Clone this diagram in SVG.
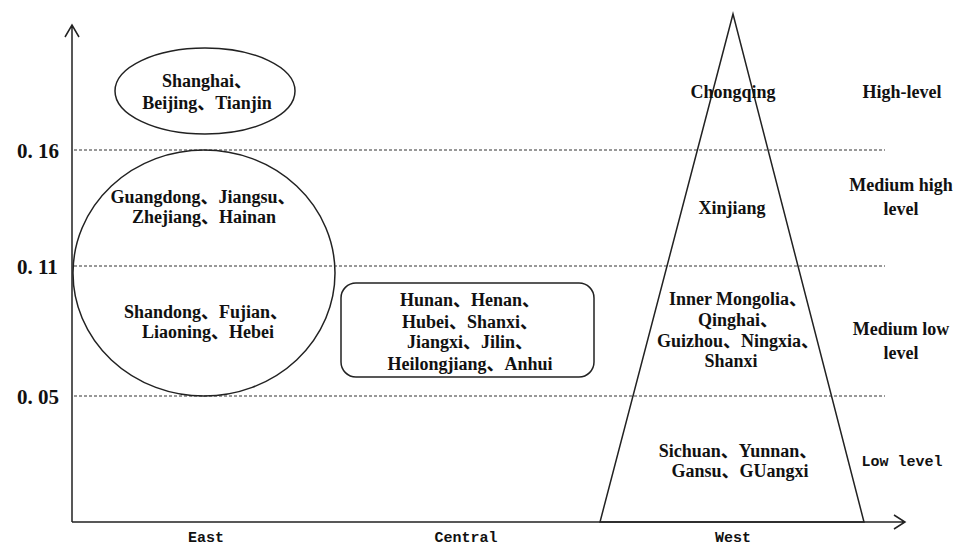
<svg xmlns="http://www.w3.org/2000/svg" width="958" height="548" viewBox="0 0 958 548">
<style>
.t{font-family:"Liberation Serif","Noto Sans CJK SC",serif;font-weight:bold;font-size:18px;fill:#111;text-anchor:middle}
.ax{font-family:"Liberation Serif","Noto Sans CJK SC",serif;font-weight:bold;font-size:21px;fill:#111}
.m{font-family:"Liberation Mono",monospace;font-weight:bold;font-size:15px;fill:#111;text-anchor:middle}
.s{fill:none;stroke:#222;stroke-width:1.5}
.d{stroke:#333;stroke-width:1.2;stroke-dasharray:3 2;fill:none}
</style>
<rect width="958" height="548" fill="#fff"/>
<g id="axes">
<path class="s" d="M72 522 V25 M65 37 L72 25 L79 37"/>
<path class="s" d="M72 522 H905 M894 515 L905 522 L894 529"/>
<line class="d" x1="74" y1="150" x2="885" y2="150"/>
<line class="d" x1="74" y1="266" x2="885" y2="266"/>
<line class="d" x1="74" y1="396" x2="885" y2="396"/>
<text class="ax" x="17" y="158">0. 16</text>
<text class="ax" x="17" y="274">0. 11</text>
<text class="ax" x="17" y="404">0. 05</text>
<text class="m" x="206" y="542">East</text>
<text class="m" x="466" y="542">Central</text>
<text class="m" x="733" y="542">West</text>
</g>
<g id="east-high">
<ellipse class="s" cx="205" cy="91" rx="90" ry="43"/>
<text class="t" x="207" y="87">Shanghai、</text>
<text class="t" x="207" y="109">Beijing、Tianjin</text>
</g>
<g id="east-mid">
<ellipse class="s" cx="204" cy="273" rx="131" ry="123"/>
<text class="t" x="203" y="203">Guangdong、Jiangsu、</text>
<text class="t" x="204" y="223">Zhejiang、Hainan</text>
<text class="t" x="206" y="318">Shandong、Fujian、</text>
<text class="t" x="208" y="338">Liaoning、Hebei</text>
</g>
<g id="central">
<rect class="s" x="341" y="283" width="253" height="94" rx="15"/>
<text class="t" x="470" y="306">Hunan、Henan、</text>
<text class="t" x="470" y="328">Hubei、Shanxi、</text>
<text class="t" x="470" y="348">Jiangxi、Jilin、</text>
<text class="t" x="470" y="370">Heilongjiang、Anhui</text>
</g>
<g id="west">
<path class="s" d="M733 14 L600 522 L864 522 Z"/>
<text class="t" x="733" y="98">Chongqing</text>
<text class="t" x="732" y="214">Xinjiang</text>
<text class="t" x="738" y="305">Inner Mongolia、</text>
<text class="t" x="738" y="326">Qinghai、</text>
<text class="t" x="738" y="347">Guizhou、Ningxia、</text>
<text class="t" x="731" y="367">Shanxi</text>
<text class="t" x="738" y="457">Sichuan、Yunnan、</text>
<text class="t" x="740" y="477">Gansu、GUangxi</text>
</g>
<g id="levels">
<text class="t" x="902" y="98">High-level</text>
<text class="t" x="901" y="191">Medium high</text>
<text class="t" x="901" y="215">level</text>
<text class="t" x="901" y="335">Medium low</text>
<text class="t" x="901" y="359">level</text>
<text class="m" x="902" y="466">Low level</text>
</g>
</svg>
